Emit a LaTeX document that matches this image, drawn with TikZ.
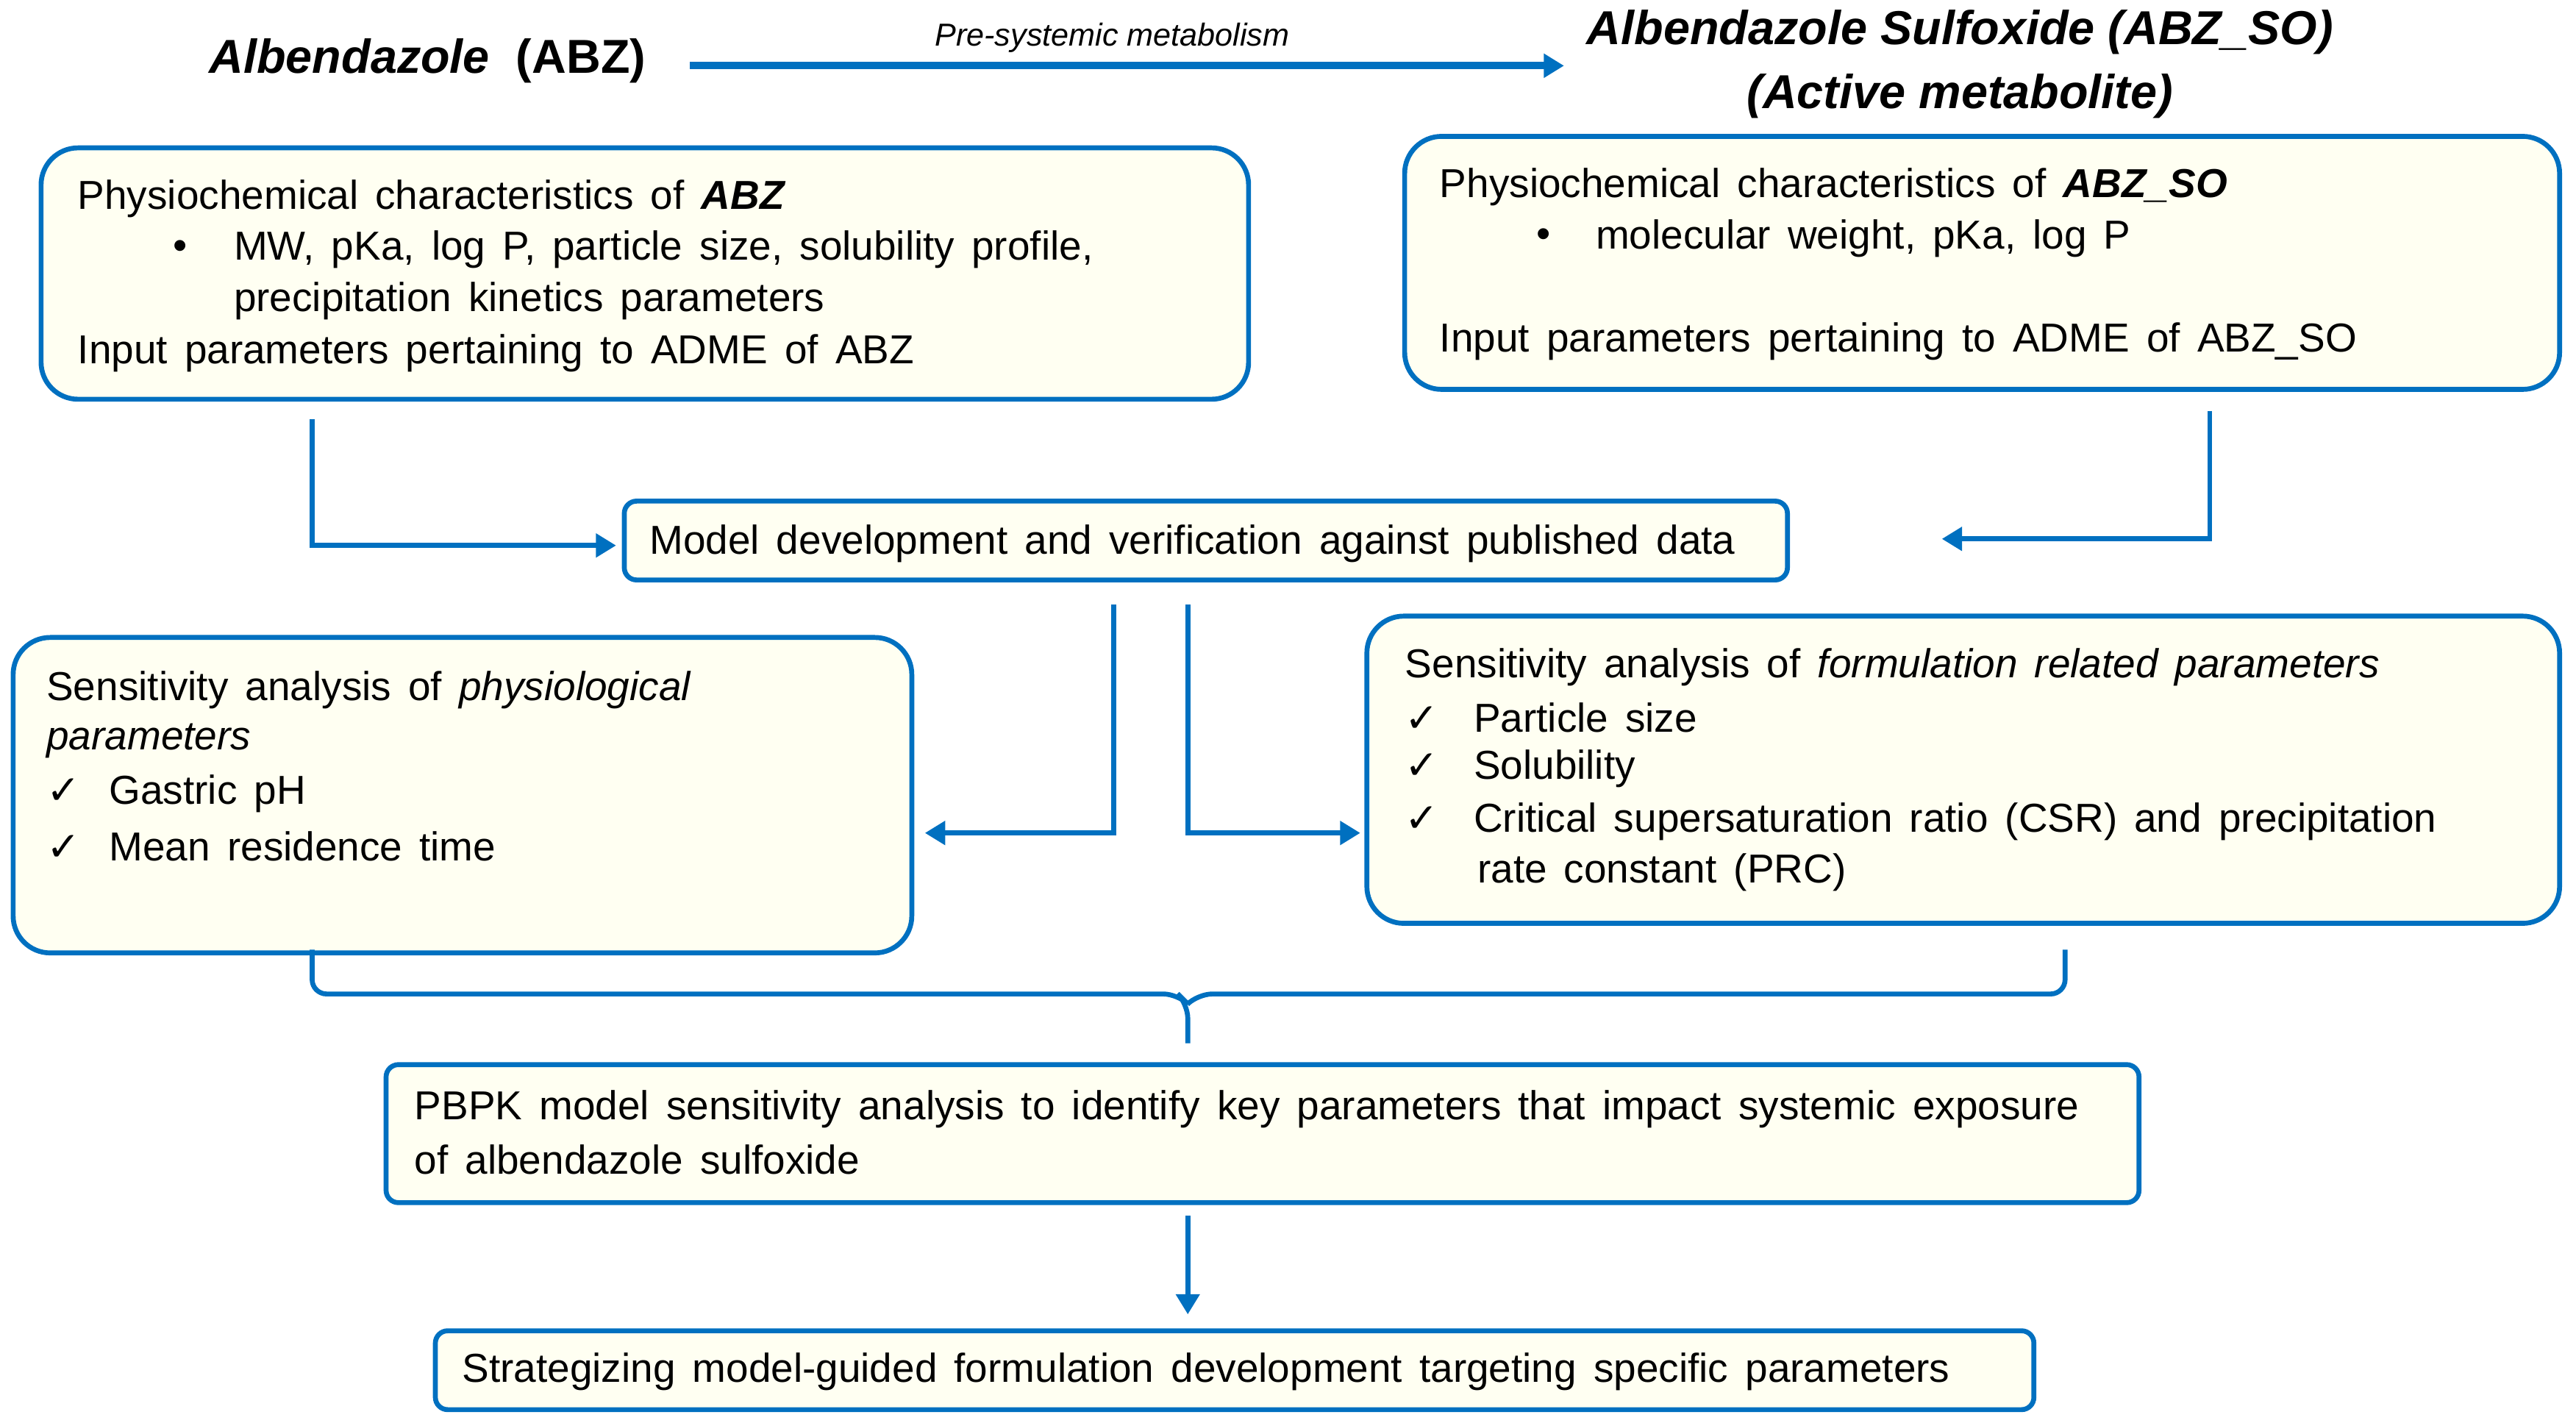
\documentclass[tikz,border=0pt]{standalone}
\usepackage{fontspec}
\setmainfont{Liberation Sans}
\newfontfamily\dejavu{DejaVu Sans}
\usetikzlibrary{fit,arrows.meta}
\definecolor{bl}{RGB}{0,112,192}
\definecolor{fl}{RGB}{255,255,242}
\newcommand\mywsp{\spaceskip=0.42em plus 0.1em minus 0.05em\relax}
\begin{document}
\begin{tikzpicture}[x=0.02cm,y=-0.02cm,
  box/.style={draw=bl,line width=1.7pt,fill=fl,rounded corners=0.45cm,inner sep=0pt},
  sbox/.style={draw=bl,line width=1.7pt,fill=fl,rounded corners=0.15cm,inner sep=0pt},
  tx/.style={anchor=west,inner sep=0pt,font=\fontsize{14}{16}\selectfont\mywsp},
  con/.style={draw=bl,line width=1.7pt,-{Triangle[length=7pt,width=8pt]}},
  ln/.style={draw=bl,line width=1.7pt}]
\useasboundingbox (0,0) rectangle (1568,866);
% titles
\node[tx,font=\fontsize{16.5}{19}\selectfont\bfseries] (t1) at (127,37) {\textit{Albendazole}~ (ABZ)};
\node[font=\fontsize{16.5}{19}\selectfont\bfseries\itshape,align=center,inner sep=0pt] (t2) at (1193,39) {Albendazole Sulfoxide (ABZ\_SO)\\[3pt](Active metabolite)};
\coordinate (a1) at (420,40); \coordinate (a2) at (952,40);
\draw[con,line width=2.6pt] (a1) -- (a2);
\node[font=\fontsize{11}{13}\selectfont\itshape] (pre) at (677,23) {Pre-systemic metabolism};
% box 1
\node[box,fit={(25,90)(760,243)}] (b1) {};
\node[tx] (b1a) at (47,121) {Physiochemical characteristics of \textbf{\textit{ABZ}}};
\node[tx] (b1b) at (105,152) {•};
\node[tx] (b1c) at (142,152) {MW, pKa, log P, particle size, solubility profile,};
\node[tx] (b1d) at (142,183) {precipitation kinetics parameters};
\node[tx] (b1e) at (47,215) {Input parameters pertaining to ADME of ABZ};
% box 2
\node[box,fit={(855,83)(1558,237)}] (b2) {};
\node[tx] (b2a) at (876,114) {Physiochemical characteristics of \textbf{\textit{ABZ\_SO}}};
\node[tx] (b2b) at (935,145) {•};
\node[tx] (b2c) at (971,145) {molecular weight, pKa, log P};
\node[tx] (b2e) at (876,208) {Input parameters pertaining to ADME of ABZ\_SO};
% model
\node[sbox,fit={(380,305)(1088,353)}] (m) {};
\node[tx] (mt) at (395,331) {Model development and verification against published data};
% sens phys
\node[box,fit={(8,388)(555,580)}] (sp) {};
\node[tx] (sp1) at (28,420) {Sensitivity analysis of \textit{physiological}};
\node[tx] (sp2) at (28,451) {\textit{parameters}};
\node[tx] (sp3) at (28,483) {{\dejavu ✓}\hspace{10pt}Gastric pH};
\node[tx] (sp4) at (28,515) {{\dejavu ✓}\hspace{10pt}Mean residence time};
% sens form
\node[box,fit={(832,375)(1558,562)}] (sf) {};
\node[tx] (sf1) at (855,406) {Sensitivity analysis of \textit{formulation related parameters}};
\node[tx] (sf2) at (855,437) {{\dejavu ✓}\hspace{12pt}Particle size};
\node[tx] (sf3) at (855,468) {{\dejavu ✓}\hspace{12pt}Solubility};
\node[tx] (sf4) at (855,500) {{\dejavu ✓}\hspace{12pt}Critical supersaturation ratio (CSR) and precipitation};
\node[tx] (sf5) at (899,531) {rate constant (PRC)};
% pbpk
\node[sbox,fit={(235,648)(1302,732)}] (pb) {};
\node[tx] (pb1) at (252,675) {PBPK model sensitivity analysis to identify key parameters that impact systemic exposure};
\node[tx] (pb2) at (252,706) {of albendazole sulfoxide};
% strategize
\node[sbox,fit={(265,810)(1238,858)}] (st) {};
\node[tx] (stt) at (281,835) {Strategizing model-guided formulation development targeting specific parameters};
% connectors
\coordinate (c1) at (190,255); \coordinate (c1e) at (375,332);
\draw[con] (c1) |- (c1e);
\coordinate (c2) at (1345,250); \coordinate (c2e) at (1182,328);
\draw[con] (c2) |- (c2e);
\coordinate (c3) at (678,368); \coordinate (c3e) at (563,507);
\draw[con] (c3) |- (c3e);
\coordinate (c4) at (723,368); \coordinate (c4e) at (828,507);
\draw[con] (c4) |- (c4e);
% brace
\coordinate (bl) at (190,578); \coordinate (br) at (1257,578); \coordinate (bt) at (723,635);
\draw[ln,rounded corners=5pt] (bl) -- (190,605) -- (717,605) -- (723,611) -- (bt);
\draw[ln,rounded corners=5pt] (br) -- (1257,605) -- (729,605) -- (723,611);
\coordinate (d1) at (723,740); \coordinate (d2) at (723,800);
\draw[con] (d1) -- (d2);
\end{tikzpicture}
\end{document}
